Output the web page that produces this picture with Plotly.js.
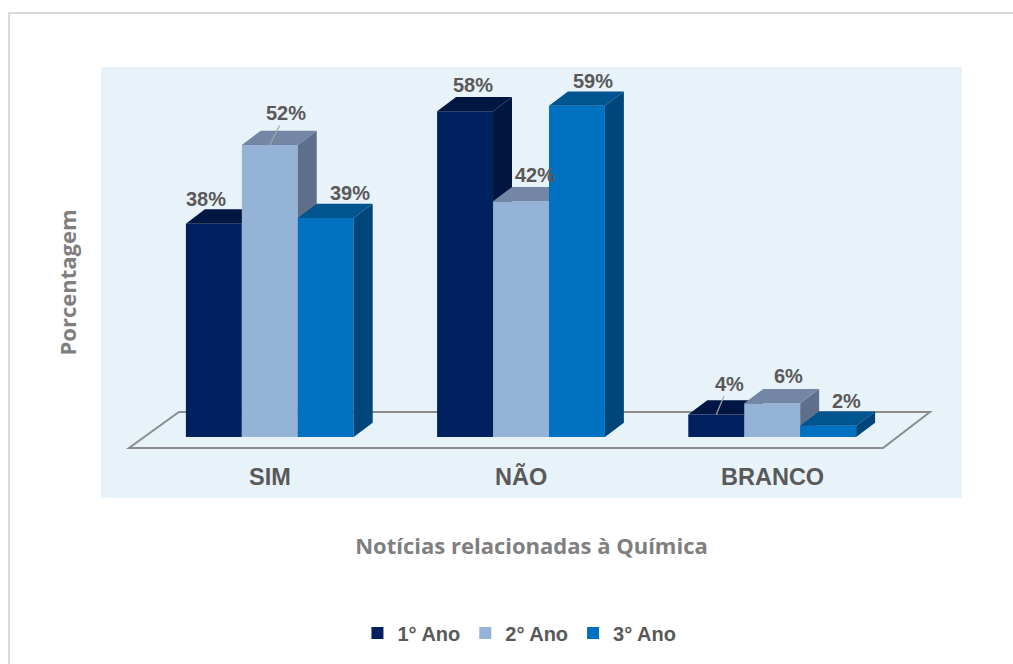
<!DOCTYPE html>
<html>
<head>
<meta charset="utf-8">
<script src="https://cdn.plot.ly/plotly-3.0.1.min.js"></script>
<style>
  html, body { margin: 0; padding: 0; background: #ffffff; }
  #chart { width: 1013px; height: 664px; }
</style>
</head>
<body>
<div id="chart"></div>
<script>
// ---- data ----
const categories = ['SIM', 'NÃO', 'BRANCO'];
const seriesNames = ['1° Ano', '2° Ano', '3° Ano'];
const ano1 = [38, 58, 4];
const ano2 = [52, 42, 6];
const ano3 = [39, 59, 2];
const xTitle = 'Notícias relacionadas à Química';
const yTitle = 'Porcentagem';

// ---- styles / geometry (not data) ----
const values = [ano1, ano2, ano3];
const frontColors = ['#002060', '#95B3D7', '#0070C0'];
const topColors = ['#001744', '#7386A3', '#00548F'];
const sideColors = ['#001540', '#5E6F8B', '#00467B'];
const barW = 0.2227;      // bar width in category units
const dX = 0.0755;        // 3D depth, horizontal (x units)
const dY = 2.55;          // 3D depth, vertical (y units)
// label offsets in px [dx, dy] and leader flag
const labelOffsets = [
  [[-8, -25], [8, -26], [13, -31]],
  [[16, -32], [14, -26], [16, -27]],
  [[24, -25], [16, -25], [18, -25]]
];
const leaders = [
  [false, false, true],
  [true, false, false],
  [false, false, false]
];

const labelFont = {family: 'Liberation Sans, Arial, sans-serif', size: 20, color: '#595959', weight: 'bold'};
const titleFont = {family: 'Open Sans, sans-serif', size: 22, color: '#7F7F7F', weight: 'bold'};

const traces = [];
const annotations = [];

values.forEach((vals, j) => {
  const xa = j === 0 ? 'x' : 'x' + (j + 1);
  const ya = j === 0 ? 'y' : 'y' + (j + 1);
  const xs = categories.map((c, i) => i + (j - 1) * barW);
  // front faces
  traces.push({
    type: 'bar', name: seriesNames[j], x: xs, y: vals, width: barW,
    marker: {color: frontColors[j], line: {width: 0}},
    xaxis: xa, yaxis: ya, hoverinfo: 'y', showlegend: true
  });
  // top and side faces
  const tx = [], ty = [], sx = [], sy = [];
  xs.forEach((xc, i) => {
    const v = vals[i];
    const x0 = xc - barW / 2, x1 = xc + barW / 2;
    tx.push(x0, x0 + dX, x1 + dX, x1, x0, null);
    ty.push(v, v + dY, v + dY, v, v, null);
    sx.push(x1, x1 + dX, x1 + dX, x1, x1, null);
    sy.push(0, dY, v + dY, v, 0, null);
  });
  traces.push({
    type: 'scatter', mode: 'lines', x: sx, y: sy, fill: 'toself',
    fillcolor: sideColors[j], line: {width: 0, color: sideColors[j]},
    xaxis: xa, yaxis: ya, hoverinfo: 'skip', showlegend: false
  });
  traces.push({
    type: 'scatter', mode: 'lines', x: tx, y: ty, fill: 'toself',
    fillcolor: topColors[j], line: {width: 0, color: topColors[j]},
    xaxis: xa, yaxis: ya, hoverinfo: 'skip', showlegend: false
  });
  // value labels
  xs.forEach((xc, i) => {
    annotations.push({
      x: xc, y: vals[i], xref: 'x', yref: 'y',
      text: vals[i] + '%', font: labelFont,
      showarrow: true, arrowhead: 0, arrowwidth: 1.2, standoff: 0,
      arrowcolor: leaders[j][i] ? '#A6A6A6' : 'rgba(0,0,0,0)',
      ax: labelOffsets[j][i][0], ay: labelOffsets[j][i][1]
    });
  });
});

// category labels
categories.forEach((c, i) => {
  annotations.push({
    x: i, y: -7.1, xref: 'x', yref: 'y', text: c, showarrow: false,
    font: {family: 'Liberation Sans, Arial, sans-serif', size: 23.5, color: '#595959', weight: 'bold'},
    yanchor: 'middle'
  });
});

const xRange = [-0.672, 2.7555];
const yRange = [-10.86, 65.9];
const hiddenX = {range: xRange, showgrid: false, zeroline: false, showline: false, showticklabels: false, ticks: '', fixedrange: true};
const hiddenY = {range: yRange, showgrid: false, zeroline: false, showline: false, showticklabels: false, ticks: '', fixedrange: true};

const layout = {
  width: 1013, height: 664,
  margin: {l: 101, r: 51, t: 67, b: 166},
  paper_bgcolor: '#FFFFFF',
  plot_bgcolor: '#E8F3F9',
  barmode: 'overlay',
  xaxis: Object.assign({}, hiddenX, {title: {text: xTitle, font: titleFont, standoff: 40}}),
  yaxis: Object.assign({}, hiddenY, {title: {text: yTitle, font: titleFont, standoff: 17}}),
  xaxis2: Object.assign({}, hiddenX, {overlaying: 'x'}),
  yaxis2: Object.assign({}, hiddenY, {overlaying: 'y'}),
  xaxis3: Object.assign({}, hiddenX, {overlaying: 'x'}),
  yaxis3: Object.assign({}, hiddenY, {overlaying: 'y'}),
  showlegend: true,
  legend: {
    orientation: 'h', x: 0.486, xanchor: 'center', y: -0.313, yanchor: 'middle',
    font: {family: 'Liberation Sans, Arial, sans-serif', size: 20, color: '#595959', weight: 'bold'},
    traceorder: 'normal', bgcolor: 'rgba(0,0,0,0)'
  },
  annotations: annotations,
  shapes: [
    {type: 'rect', xref: 'paper', yref: 'paper', x0: -0.1067, x1: 1.08, y0: -0.43, y1: 1.1253,
     line: {color: '#D9D9D9', width: 2}, fillcolor: 'rgba(0,0,0,0)', layer: 'below'},
    {type: 'path', xref: 'x', yref: 'y', layer: 'below',
     path: 'M -0.5606,-1.96 L -0.3618,4.45 L 2.628,4.45 L 2.441,-1.96 Z',
     line: {color: '#8C8C8C', width: 2}, fillcolor: 'rgba(0,0,0,0)'}
  ]
};

Plotly.newPlot('chart', traces, layout, {displayModeBar: false, staticPlot: true});
</script>
</body>
</html>
